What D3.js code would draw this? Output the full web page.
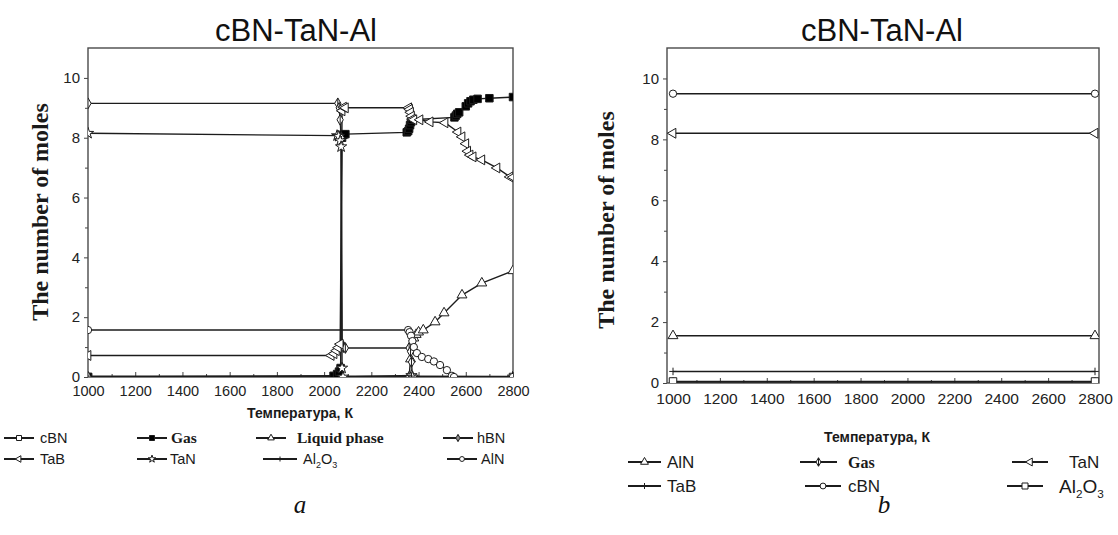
<!DOCTYPE html>
<html><head><meta charset="utf-8">
<script src="https://cdn.jsdelivr.net/npm/d3@7"></script>
<style>body{margin:0;background:#fff} svg{display:block}</style>
</head><body>
<svg id="c" width="1118" height="535"></svg>
<script>
// ---------- data ----------
const chartTitle = "cBN-TaN-Al";
const xTickValues = [1000,1200,1400,1600,1800,2000,2200,2400,2600,2800];
const yTickValues = [0,2,4,6,8,10];
const xTitle = "Температура, К";
const yTitle = "The number of moles";

// panel a : [T (K), moles]
const aCBN   = [[1000,0],[2800,0]];
const aGas   = [[1000,0],[2040,0.04],[2055,0.1],[2063,0.18],[2070,0.3],[2076,8.0],[2082,8.1],[2090,8.12],[2350,8.18],[2356,8.22],[2360,8.3],[2364,8.42],[2368,8.52],[2372,8.6],[2552,8.68],[2558,8.74],[2564,8.8],[2572,8.85],[2600,9.05],[2610,9.15],[2620,9.22],[2632,9.27],[2650,9.3],[2700,9.32],[2800,9.36]];
const aLiquid= [[1000,0],[2360,0],[2366,0.6],[2372,1.1],[2380,1.3],[2390,1.42],[2400,1.5],[2420,1.57],[2470,1.84],[2508,2.14],[2584,2.74],[2668,3.14],[2800,3.55]];
const aHBN   = [[1000,9.15],[2058,9.15],[2064,9.0],[2068,8.6],[2072,8.0],[2076,1.1],[2082,1.0],[2090,0.97],[2360,0.97],[2366,0.85],[2370,0.5],[2374,0],[2800,0]];
const aTaB   = [[1000,0.72],[2030,0.72],[2042,0.78],[2052,0.88],[2060,0.98],[2068,1.1],[2076,8.9],[2082,9.02],[2090,9.0],[2358,9.0],[2362,8.95],[2366,8.85],[2370,8.72],[2374,8.62],[2380,8.6],[2406,8.6],[2449,8.53],[2512,8.5],[2567,8.19],[2584,8.03],[2600,7.8],[2608,7.55],[2618,7.42],[2631,7.36],[2668,7.26],[2732,6.99],[2787,6.69],[2800,6.68]];
const aTaN   = [[1000,8.15],[2055,8.07],[2062,8.05],[2068,7.9],[2072,7.7],[2076,0.3],[2080,0],[2370,0.05],[2375,0],[2800,0]];
const aAl2O3 = [[1000,0.03],[2370,0.03],[2800,0.02]];
const aAlN   = [[1000,1.57],[2356,1.57],[2362,1.5],[2368,1.38],[2374,1.2],[2380,1.0],[2393,0.8],[2414,0.67],[2441,0.6],[2465,0.52],[2491,0.4],[2520,0.23],[2541,0.04],[2550,0],[2800,0]];

// panel b
const bAlN   = [[1000,1.55],[2800,1.55]];
const bGas   = [[1000,0],[2800,0]];
const bTaN   = [[1000,8.2],[2800,8.2]];
const bTaB   = [[1000,0.38],[2800,0.38]];
const bCBN   = [[1000,9.5],[2800,9.5]];
const bAl2O3 = [[1000,0.05],[2800,0.05]];

const aSeries = [
  {name:"cBN", data:aCBN, sym:"square"},
  {name:"Gas", data:aGas, sym:"fsquare"},
  {name:"Liquid phase", data:aLiquid, sym:"tri"},
  {name:"hBN", data:aHBN, sym:"diam"},
  {name:"TaB", data:aTaB, sym:"tleft"},
  {name:"TaN", data:aTaN, sym:"star"},
  {name:"Al2O3", data:aAl2O3, sym:"plus"},
  {name:"AlN", data:aAlN, sym:"circle"}
];
const bSeries = [
  {name:"AlN", data:bAlN, sym:"tri"},
  {name:"Gas", data:bGas, sym:"diam"},
  {name:"TaN", data:bTaN, sym:"tleft"},
  {name:"TaB", data:bTaB, sym:"plus"},
  {name:"cBN", data:bCBN, sym:"circle"},
  {name:"Al2O3", data:bAl2O3, sym:"square"}
];

// ---------- drawing ----------
const svg = d3.select("#c");
const INK = "#1c1c1c";

function symPath(sym, s) {
  switch (sym) {
    case "square": case "fsquare": return d3.symbol(d3.symbolSquare, s*s)();
    case "tri": return d3.symbol(d3.symbolTriangle, s*s*0.75)();
    case "tleft": return d3.symbol(d3.symbolTriangle, s*s*0.75)();
    case "circle": return d3.symbol(d3.symbolCircle, s*s*0.75)();
    case "star": return d3.symbol(d3.symbolStar, s*s*0.7)();
    case "diam": return d3.symbol(d3.symbolDiamond, s*s*0.6)();
    case "plus": return `M${-s/2},0H${s/2}M0,${-s/2}V${s/2}`;
  }
}
function drawMarker(g, sym, x, y, s) {
  const p = g.append("path").attr("d", symPath(sym, s))
    .attr("transform", `translate(${x},${y})` + (sym==="tleft" ? " rotate(-90)" : ""))
    .attr("stroke", INK).attr("stroke-width", 1);
  if (sym === "fsquare") p.attr("fill", "#000");
  else if (sym === "plus") p.attr("fill", "none");
  else p.attr("fill", "#fff");
  if (sym === "diam") {
    g.append("path").attr("d", `M${x},${y - s*0.65}V${y + s*0.65}`)
      .attr("stroke", INK).attr("stroke-width", 1);
  }
}

function panel(opt) {
  const x = d3.scaleLinear().domain([1000, 2800]).range(opt.xr);
  const y = d3.scaleLinear().domain([0, 11]).range([opt.y0, opt.y1]);
  const g = svg.append("g");
  const clipId = "clip" + opt.id;
  svg.append("clipPath").attr("id", clipId).append("rect")
    .attr("x", opt.fx0).attr("y", opt.y1).attr("width", opt.fx1 - opt.fx0).attr("height", opt.y0 - opt.y1);

  // title
  g.append("text").attr("x", opt.titleX).attr("y", 41).attr("text-anchor", "middle")
    .attr("font-family", "Liberation Sans, Arial, sans-serif").attr("font-size", 31).attr("fill", "#111")
    .text(chartTitle);

  // y axis
  const ya = g.append("g").attr("transform", `translate(${opt.fx0},0)`)
    .call(d3.axisLeft(y).tickValues(yTickValues).tickSize(4).tickPadding(4).tickFormat(d3.format("d")));
  ya.select(".domain").remove();
  ya.selectAll("text").attr("font-family", "Liberation Sans, Arial, sans-serif").attr("font-size", 15).attr("fill", "#222");
  ya.selectAll("line").attr("stroke", "#444");
  const ym = g.append("g").attr("transform", `translate(${opt.fx0},0)`)
    .call(d3.axisLeft(y).tickValues([1,3,5,7,9]).tickSize(3).tickFormat(""));
  ym.select(".domain").remove(); ym.selectAll("line").attr("stroke", "#444");

  // x axis (ticks inward)
  const xa = g.append("g").attr("transform", `translate(0,${opt.y0})`)
    .call(d3.axisBottom(x).tickValues(xTickValues).tickSize(0).tickPadding(opt.xpad).tickFormat(d3.format("d")));
  xa.select(".domain").remove();
  xa.selectAll("text").attr("font-family", "Liberation Sans, Arial, sans-serif").attr("font-size", opt.xfs).attr("fill", "#222");
  const xt = g.append("g").attr("transform", `translate(0,${opt.y0})`)
    .call(d3.axisTop(x).tickValues(xTickValues).tickSize(5).tickFormat(""));
  xt.select(".domain").remove(); xt.selectAll("line").attr("stroke", "#444");
  const minorX = d3.range(1100, 2800, 200);
  const xm = g.append("g").attr("transform", `translate(0,${opt.y0})`)
    .call(d3.axisTop(x).tickValues(minorX).tickSize(3).tickFormat(""));
  xm.select(".domain").remove(); xm.selectAll("line").attr("stroke", "#444");

  // frame
  g.append("rect").attr("x", opt.fx0).attr("y", opt.y1)
    .attr("width", opt.fx1 - opt.fx0).attr("height", opt.y0 - opt.y1)
    .attr("fill", "none").attr("stroke", "#4a4a4a").attr("stroke-width", 1.4);

  // axis titles
  g.append("text").attr("transform", `translate(${opt.ytX},${opt.ytY}) rotate(-90)`)
    .attr("text-anchor", "middle").attr("font-family", "Liberation Serif, Times New Roman, serif")
    .attr("font-weight", "bold").attr("font-size", 24).attr("fill", "#1a1a1a").text(yTitle);
  g.append("text").attr("x", opt.xtX).attr("y", opt.xtY).attr("text-anchor", "middle")
    .attr("font-family", "Liberation Sans, Arial, sans-serif").attr("font-weight", "bold")
    .attr("font-size", 14).attr("fill", "#1a1a1a").text(xTitle);

  // series
  const pg = g.append("g").attr("clip-path", `url(#${clipId})`);
  const line = d3.line().x(d => x(d[0])).y(d => y(d[1]));
  opt.series.forEach(s => {
    pg.append("path").attr("d", line(s.data)).attr("fill", "none")
      .attr("stroke", INK).attr("stroke-width", 1.4);
  });
  opt.series.forEach(s => {
    s.data.forEach(d => drawMarker(pg, s.sym, x(d[0]), y(d[1]), opt.ms));
  });
}

panel({id:"a", xr:[88,513], fx0:88, fx1:513, y0:377, y1:48, titleX:296,
  ytX:48, ytY:212, xtX:300, xtY:418, xpad:9, xfs:14.5, ms:7.5, series:aSeries});
panel({id:"b", xr:[673,1095], fx0:667, fx1:1099, y0:383, y1:48, titleX:882,
  ytX:614, ytY:220, xtX:877, xtY:442, xpad:10, xfs:15.5, ms:7.5, series:bSeries});

// ---------- legends ----------
function legendLabel(g, x, y, label, fs, serifBold) {
  const t = g.append("text").attr("x", x).attr("y", y).attr("dy", "0.35em")
    .attr("font-size", fs).attr("fill", "#1a1a1a");
  if (serifBold) {
    t.attr("font-family", "Liberation Serif, Times New Roman, serif").attr("font-weight", "bold").text(label);
  } else if (label === "Al2O3") {
    t.attr("font-family", "Liberation Sans, Arial, sans-serif");
    t.append("tspan").text("Al");
    t.append("tspan").attr("font-size", fs*0.62).attr("dy", fs*0.3).text("2");
    t.append("tspan").attr("dy", -fs*0.3).text("O");
    t.append("tspan").attr("font-size", fs*0.62).attr("dy", fs*0.3).text("3");
  } else {
    t.attr("font-family", "Liberation Sans, Arial, sans-serif").text(label);
  }
}
function legend(items, fs) {
  const g = svg.append("g");
  items.forEach(it => {
    g.append("line").attr("x1", it.x).attr("x2", it.x + it.w).attr("y1", it.y).attr("y2", it.y)
      .attr("stroke", INK).attr("stroke-width", 2);
    drawMarker(g, it.sym, it.x + it.w/2, it.y, it.ms || 5);
    legendLabel(g, it.lx, it.y, it.label, it.fs || fs, it.serif);
  });
}
const aLegendLabels = ["cBN","Gas","Liquid phase","hBN","TaB","TaN","Al2O3","AlN"];
legend([
  {x:4, y:438, w:30, lx:40, sym:"square", label:aLegendLabels[0]},
  {x:137, y:438, w:30, lx:171, sym:"fsquare", label:aLegendLabels[1], serif:true, fs:15.5},
  {x:256, y:438, w:30, lx:297, sym:"tri", label:aLegendLabels[2], serif:true, fs:15.5},
  {x:443, y:438, w:30, lx:477, sym:"diam", label:aLegendLabels[3]},
  {x:4, y:459, w:30, lx:40, sym:"tleft", label:aLegendLabels[4]},
  {x:137, y:459, w:30, lx:170, sym:"star", label:aLegendLabels[5]},
  {x:263, y:459, w:34, lx:303, sym:"plus", label:aLegendLabels[6]},
  {x:447, y:459, w:30, lx:481, sym:"circle", label:aLegendLabels[7]}
], 14.5);
const bLegendLabels = ["AlN","Gas","TaN","TaB","cBN","Al2O3"];
legend([
  {x:628, y:462, w:33, lx:667, sym:"tri", label:bLegendLabels[0], ms:6},
  {x:800, y:462, w:37, lx:848, sym:"diam", label:bLegendLabels[1], serif:true, fs:16, ms:6},
  {x:1012, y:462, w:36, lx:1069, sym:"tleft", label:bLegendLabels[2], ms:6},
  {x:628, y:486, w:33, lx:667, sym:"plus", label:bLegendLabels[3], ms:6},
  {x:805, y:486, w:36, lx:848, sym:"circle", label:bLegendLabels[4], ms:6},
  {x:1007, y:486, w:36, lx:1059, sym:"square", label:bLegendLabels[5], fs:19, ms:6}
], 17);

// panel letters
svg.append("text").attr("x", 300).attr("y", 513).attr("text-anchor", "middle")
  .attr("font-family", "Liberation Serif, Times New Roman, serif").attr("font-style", "italic")
  .attr("font-size", 25).attr("fill", "#111").text("a");
svg.append("text").attr("x", 884).attr("y", 513).attr("text-anchor", "middle")
  .attr("font-family", "Liberation Serif, Times New Roman, serif").attr("font-style", "italic")
  .attr("font-size", 25).attr("fill", "#111").text("b");
</script>
</body></html>
